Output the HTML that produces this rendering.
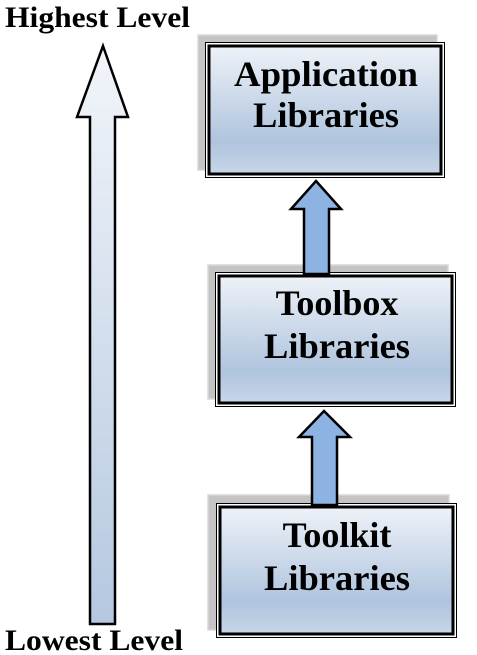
<!DOCTYPE html>
<html><head><style>body{margin:0;background:#fff;}svg{display:block}</style></head><body>
<svg width="477" height="655" viewBox="0 0 477 655" xmlns="http://www.w3.org/2000/svg" font-family="'Liberation Serif', serif" font-weight="bold">
<defs>
<linearGradient id="g" x1="0" y1="0" x2="0" y2="1">
<stop offset="0" stop-color="#eef2f8"/><stop offset="0.75" stop-color="#afc4de"/><stop offset="1" stop-color="#c8d6e8"/>
</linearGradient>
<linearGradient id="ga" x1="0" y1="0" x2="0" y2="1">
<stop offset="0" stop-color="#f2f5fa"/><stop offset="1" stop-color="#b5c8e0"/>
</linearGradient>
</defs>
<text x="5" y="27" font-size="30" textLength="185" lengthAdjust="spacingAndGlyphs">Highest Level</text>
<text x="5" y="650" font-size="30" textLength="178" lengthAdjust="spacingAndGlyphs">Lowest Level</text>
<polygon points="103,46 128,117 115,117 115,624 90,624 90,117 77,117" fill="url(#ga)" stroke="#000" stroke-width="2.5"/>
<!-- box 1 -->
<rect x="198" y="35" width="239" height="135" fill="#c4c4c4" stroke="#d8d8d8" stroke-width="1.5"/>
<rect x="205.5" y="42.5" width="239" height="135" fill="#fff" stroke="#000" stroke-width="1"/>
<rect x="209" y="46" width="232" height="128" fill="url(#g)" stroke="#000" stroke-width="3"/>
<text x="326" y="86" font-size="36" text-anchor="middle" textLength="184" lengthAdjust="spacingAndGlyphs">Application</text>
<text x="326" y="127" font-size="36" text-anchor="middle" textLength="146" lengthAdjust="spacingAndGlyphs">Libraries</text>
<!-- box 2 -->
<rect x="208" y="265" width="240" height="134" fill="#c4c4c4" stroke="#d8d8d8" stroke-width="1.5"/>
<rect x="215.5" y="272.5" width="240" height="134" fill="#fff" stroke="#000" stroke-width="1"/>
<rect x="219" y="276" width="233" height="127" fill="url(#g)" stroke="#000" stroke-width="3"/>
<text x="337" y="315" font-size="36" text-anchor="middle">Toolbox</text>
<text x="337" y="358" font-size="36" text-anchor="middle" textLength="146" lengthAdjust="spacingAndGlyphs">Libraries</text>
<!-- box 3 -->
<rect x="208" y="495" width="241" height="135" fill="#c4c4c4" stroke="#d8d8d8" stroke-width="1.5"/>
<rect x="216.5" y="503.5" width="240" height="134" fill="#fff" stroke="#000" stroke-width="1"/>
<rect x="220" y="507" width="233" height="127" fill="url(#g)" stroke="#000" stroke-width="3"/>
<text x="337" y="547" font-size="36" text-anchor="middle">Toolkit</text>
<text x="337" y="590" font-size="36" text-anchor="middle" textLength="146" lengthAdjust="spacingAndGlyphs">Libraries</text>
<!-- arrows -->
<polygon points="316,181 341,209 329,209 329,274 304,274 304,209 291,209" fill="#8db3e2" stroke="#000" stroke-width="2.5"/>
<polygon points="324,411 350,437 337,437 337,505 312,505 312,437 299,437" fill="#8db3e2" stroke="#000" stroke-width="2.5"/>
</svg>
</body></html>
